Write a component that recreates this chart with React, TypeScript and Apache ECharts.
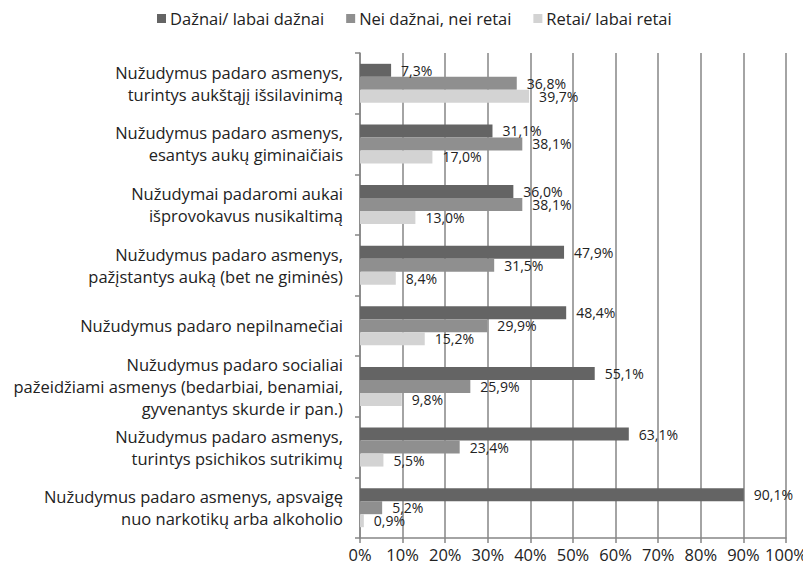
import React, { useEffect, useRef } from "react";
import * as echarts from "echarts";

const categories = [
  "Nužudymus padaro asmenys,\nturintys aukštąjį išsilavinimą",
  "Nužudymus padaro asmenys,\nesantys aukų giminaičiais",
  "Nužudymai padaromi aukai\nišprovokavus nusikaltimą",
  "Nužudymus padaro asmenys,\npažįstantys auką (bet ne giminės)",
  "Nužudymus padaro nepilnamečiai",
  "Nužudymus padaro socialiai\npažeidžiami asmenys (bedarbiai, benamiai,\ngyvenantys skurde ir pan.)",
  "Nužudymus padaro asmenys,\nturintys psichikos sutrikimų",
  "Nužudymus padaro asmenys, apsvaigę\nnuo narkotikų arba alkoholio",
];

const seriesNames = ["Dažnai/ labai dažnai", "Nei dažnai, nei retai", "Retai/ labai retai"];
const dazhnai = [7.3, 31.1, 36.0, 47.9, 48.4, 55.1, 63.1, 90.1];
const nei = [36.8, 38.1, 38.1, 31.5, 29.9, 25.9, 23.4, 5.2];
const retai = [39.7, 17.0, 13.0, 8.4, 15.2, 9.8, 5.5, 0.9];
const xTicks = [0, 10, 20, 30, 40, 50, 60, 70, 80, 90, 100];

const colors = ["#646464", "#8f8f8f", "#d3d3d3"];
const FONT = "'Open Sans', sans-serif";

export default function App() {
  const ref = useRef<HTMLDivElement>(null);
  useEffect(() => {
    if (!ref.current) return;
    const chart = echarts.init(ref.current, null, { renderer: "svg" });
    const data = [dazhnai, nei, retai];
    chart.setOption({
      animation: false,
      color: colors,
      textStyle: { fontFamily: FONT },
      legend: {
        top: 5,
        left: 152,
        itemWidth: 9,
        itemHeight: 9,
        itemGap: 22,
        icon: "rect",
        textStyle: { fontSize: 16.5, color: "#222", fontFamily: FONT, padding: [0, 0, 0, -1] },
        data: seriesNames,
      },
      grid: { left: 360, right: 25, top: 53, bottom: 33, containLabel: false },
      xAxis: {
        type: "value",
        min: 0,
        max: 100,
        interval: 10,
        axisLine: { show: true, lineStyle: { color: "#868686", width: 1.5 } },
        axisTick: { show: true, length: 5, lineStyle: { color: "#868686", width: 1.5 } },
        splitLine: { show: true, lineStyle: { color: "#868686", width: 1.5 } },
        axisLabel: {
          formatter: (v: number) => (xTicks.includes(v) ? v + "%" : ""),
          fontSize: 16.5,
          color: "#222",
          margin: 8,
          fontFamily: FONT,
        },
      },
      yAxis: {
        type: "category",
        inverse: true,
        data: categories,
        axisLine: { show: true, lineStyle: { color: "#868686", width: 1.5 } },
        axisTick: { show: true, length: 5, lineStyle: { color: "#868686", width: 1.5 } },
        axisLabel: {
          fontSize: 16.5,
          color: "#222",
          margin: 17,
          lineHeight: 22,
          align: "right",
          fontFamily: FONT,
        },
      },
      series: seriesNames.map((name, i) => ({
        name,
        type: "bar",
        data: data[i],
        barWidth: 13,
        barGap: "0%",
        itemStyle: { color: colors[i] },
        label: {
          show: true,
          position: "right",
          distance: 10,
          fontSize: 14,
          color: "#222",
          fontFamily: FONT,
          formatter: (p: any) => p.value.toFixed(1).replace(".", ",") + "%",
        },
      })),
    });
    return () => chart.dispose();
  }, []);
  return <div ref={ref} style={{ width: 811, height: 571, margin: -8 }} />;
}
